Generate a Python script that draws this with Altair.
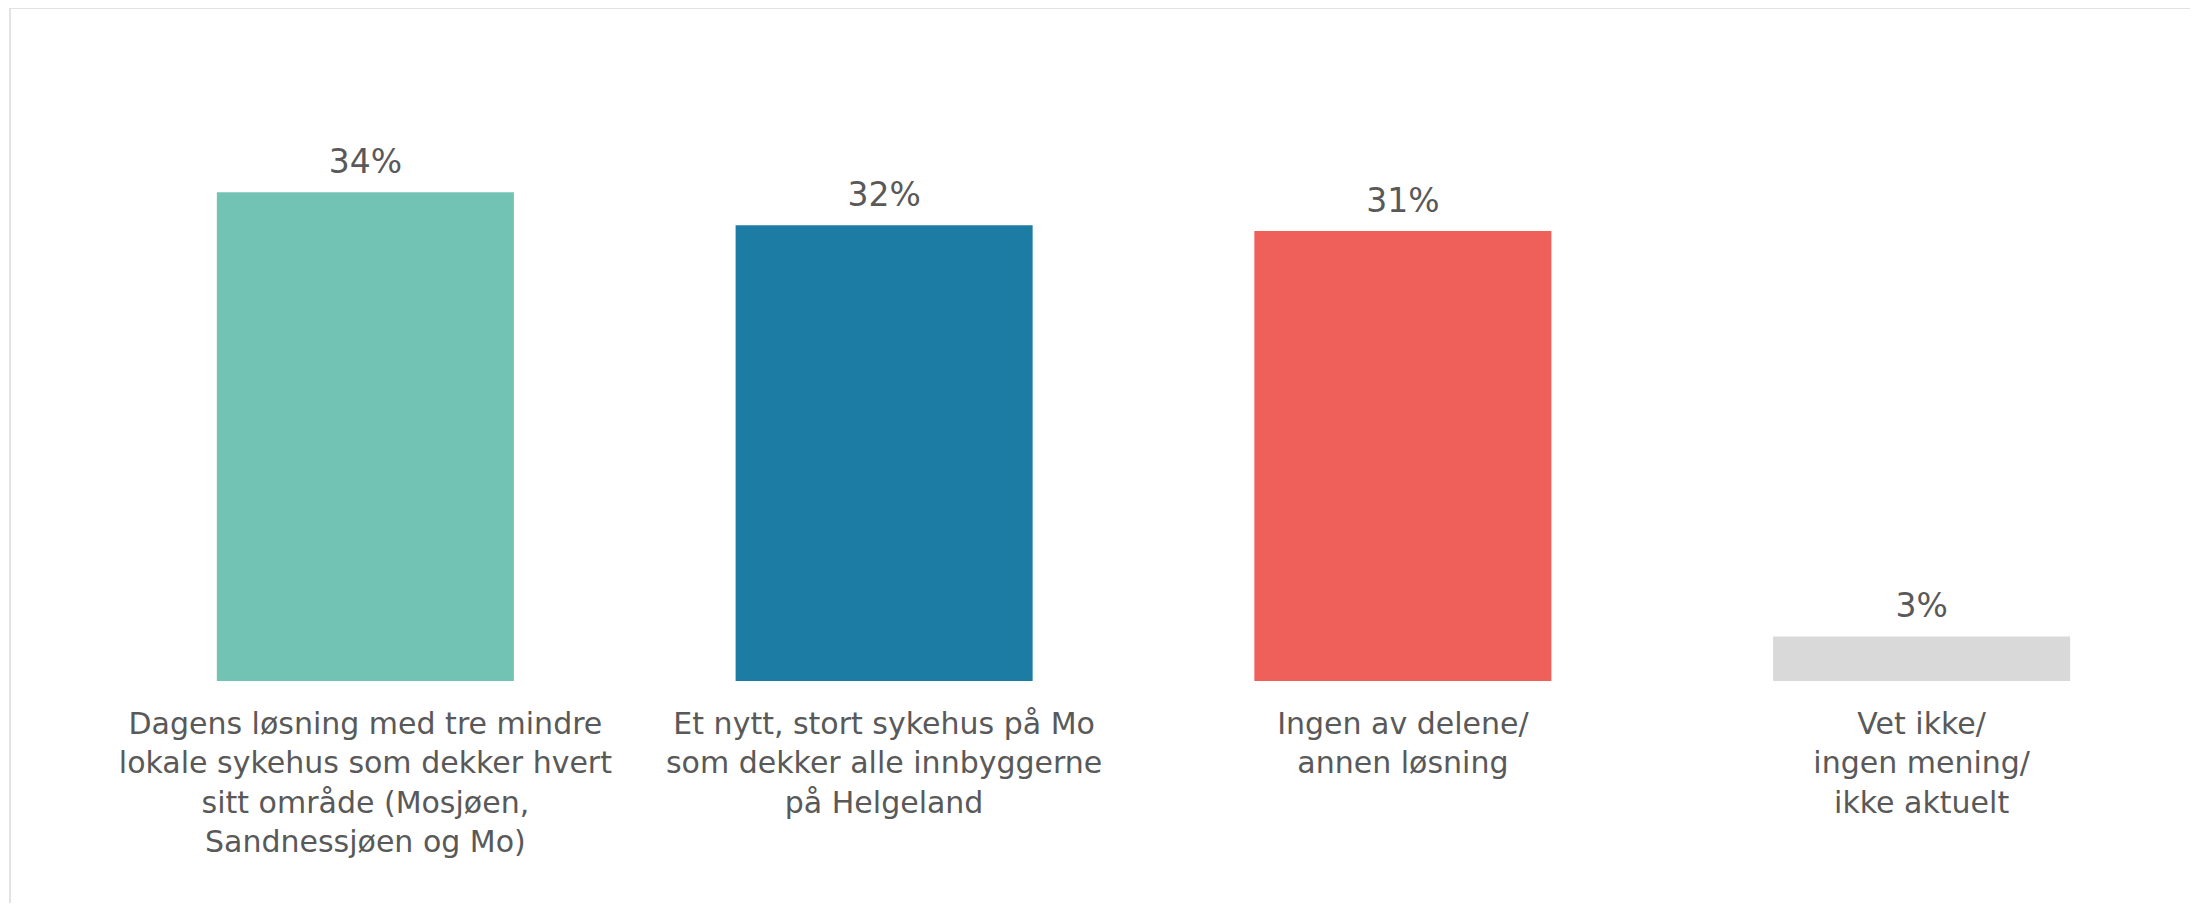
import altair as alt
import pandas as pd

categories = [
    "Dagens løsning med tre mindre|lokale sykehus som dekker hvert|sitt område (Mosjøen,|Sandnessjøen og Mo)",
    "Et nytt, stort sykehus på Mo|som dekker alle innbyggerne|på Helgeland",
    "Ingen av delene/|annen løsning",
    "Vet ikke/|ingen mening/|ikke aktuelt",
]
values = [34.0, 31.7, 31.3, 3.1]
colors = ["#72C3B4", "#1D7CA3", "#F0605A", "#D9D9D9"]

FONT = "DejaVu Sans"
TEXT_COLOR = "#595959"
W, H = 2075, 575
PAD = {"left": 98, "top": 98, "right": 9, "bottom": 222}

df = pd.DataFrame({"kategori": categories, "andel": values})

base = alt.Chart(df).encode(
    x=alt.X(
        "kategori:N",
        sort=None,
        scale=alt.Scale(paddingInner=0.4274, paddingOuter=0.2137),
        axis=alt.Axis(
            title=None,
            labelExpr="split(datum.label, '|')",
            labelFont=FONT,
            labelFontSize=30,
            labelColor=TEXT_COLOR,
            labelLineHeight=39.3,
            labelPadding=28.6,
            labelBaseline="top",
            labelLimit=0,
            ticks=False,
            tickSize=0,
            domain=False,
            grid=False,
            labelAngle=0,
            labelAlign="center",
        ),
    ),
    y=alt.Y("andel:Q", scale=alt.Scale(domain=[0, 40], nice=False, zero=True), axis=None),
)

bars = base.mark_bar().encode(
    color=alt.Color("kategori:N", sort=None, scale=alt.Scale(domain=categories, range=colors), legend=None)
)

value_labels = base.transform_calculate(
    lbl="format(datum.andel, '.0f') + '%'"
).mark_text(
    baseline="alphabetic", dy=-19, font=FONT, fontSize=33, color=TEXT_COLOR
).encode(text="lbl:N")

frame_df = pd.DataFrame({"f": [0]})
top_rule = alt.Chart(frame_df).mark_rule(color="#D9D9D9", strokeWidth=1.5, clip=False).encode(
    x=alt.value(-96), x2=alt.value(W + PAD["right"] + 20), y=alt.value(-98)
)
left_rule = alt.Chart(frame_df).mark_rule(color="#D9D9D9", strokeWidth=1.5, clip=False).encode(
    x=alt.value(-96), y=alt.value(-98), y2=alt.value(H + PAD["bottom"] + 20)
)

chart = alt.layer(top_rule, left_rule, bars, value_labels).properties(
    width=W,
    height=H,
    autosize=alt.AutoSizeParams(type="none"),
    padding=PAD,
    background="white",
).configure_view(stroke=None, strokeWidth=0)

chart.save("out.html", embed_options={"renderer": "svg", "actions": False})
